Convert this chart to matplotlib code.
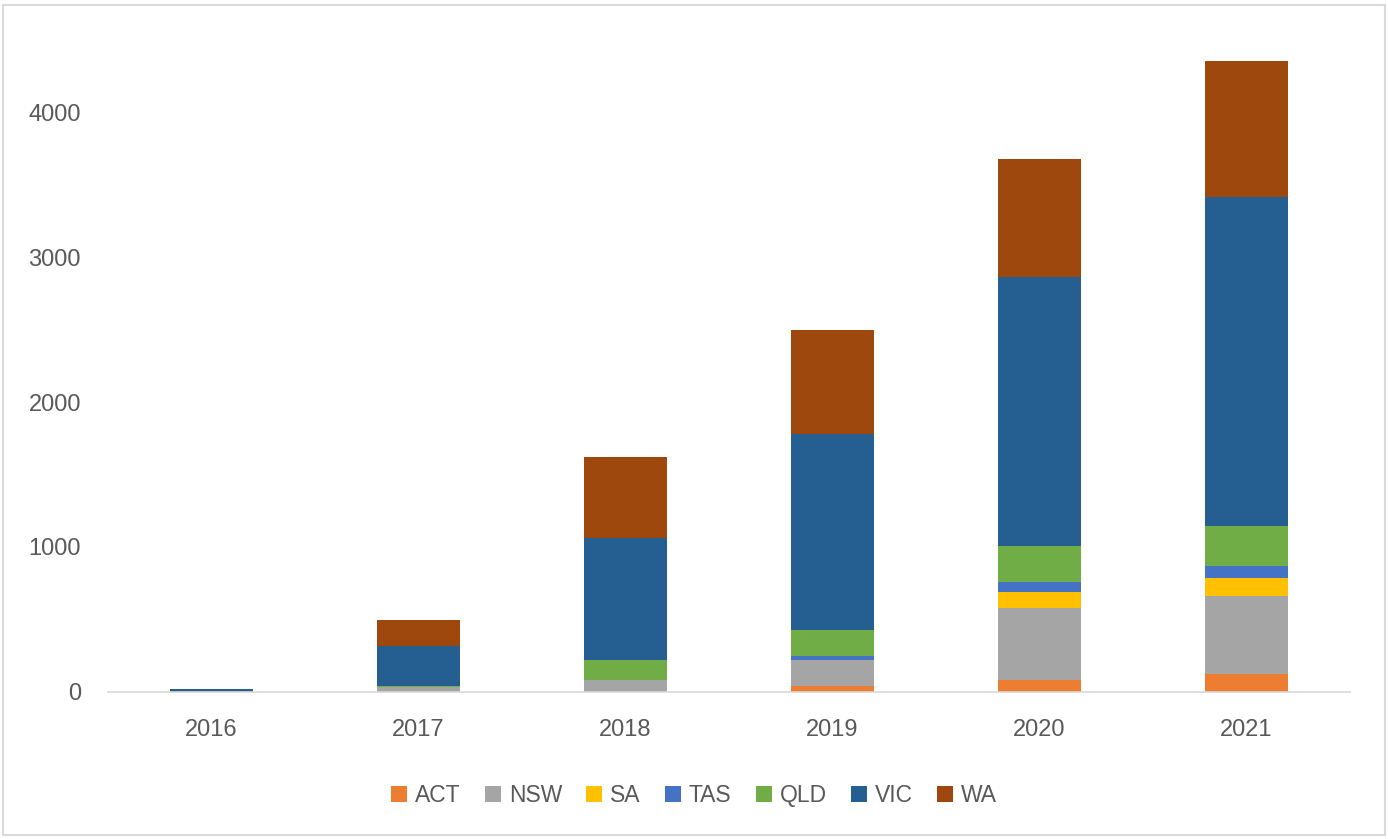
import matplotlib
matplotlib.use("Agg")
import matplotlib.pyplot as plt
import numpy as np
from matplotlib.patches import Rectangle

years = ["2016", "2017", "2018", "2019", "2020", "2021"]
ACT = [0, 0, 0, 37, 78, 122]
NSW = [0, 30, 81, 182, 500, 539]
SA = [0, 0, 0, 0, 111, 124]
TAS = [0, 0, 0, 28, 69, 83]
QLD = [0, 10, 138, 179, 249, 277]
VIC = [17, 276, 843, 1354, 1860, 2275]
WA = [0, 180, 557, 721, 815, 939]

series = [("ACT", ACT, "#ED7D31"), ("NSW", NSW, "#A5A5A5"), ("SA", SA, "#FFC000"),
          ("TAS", TAS, "#4472C4"), ("QLD", QLD, "#70AD47"), ("VIC", VIC, "#255E91"),
          ("WA", WA, "#9E480E")]

plt.rcParams['font.family'] = ['Liberation Sans', 'DejaVu Sans']
fig = plt.figure(figsize=(13.88, 8.39), dpi=100)
ax = fig.add_axes([0.0778, 0.1756, 0.8948, 0.7764])

x = np.arange(len(years))
bottom = np.zeros(len(years))
for name, vals, col in series:
    v = np.array(vals, dtype=float)
    ax.bar(x, v, 0.4, bottom=bottom, color=col, label=name, linewidth=0)
    bottom += v

ax.set_xlim(-0.5, len(years) - 0.5)
ax.set_ylim(0, 4500)
ax.set_yticks([0, 1000, 2000, 3000, 4000])
ax.set_xticks(x)
ax.set_xticklabels(years)
ax.tick_params(axis='both', length=0, labelsize=17, labelcolor="#595959")
ax.tick_params(axis='y', pad=19.5)
ax.tick_params(axis='x', pad=20)
for s in ["top", "right", "left"]:
    ax.spines[s].set_visible(False)
ax.spines["bottom"].set_color("#D9D9D9")
ax.spines["bottom"].set_linewidth(1.2)

leg = fig.legend(loc="center", bbox_to_anchor=(0.5, 0.052), ncol=7, frameon=False,
                 fontsize=16.5, handlelength=0.7, handleheight=0.7, handletextpad=0.35,
                 columnspacing=1.05)
for t in leg.get_texts():
    t.set_color("#595959")

fig.patches.append(Rectangle((3 / 1388, 4 / 839), 1382 / 1388, 830 / 839,
                             transform=fig.transFigure, fill=False,
                             edgecolor="#D9D9D9", linewidth=1.5))

fig.savefig("out.png", dpi=100)
